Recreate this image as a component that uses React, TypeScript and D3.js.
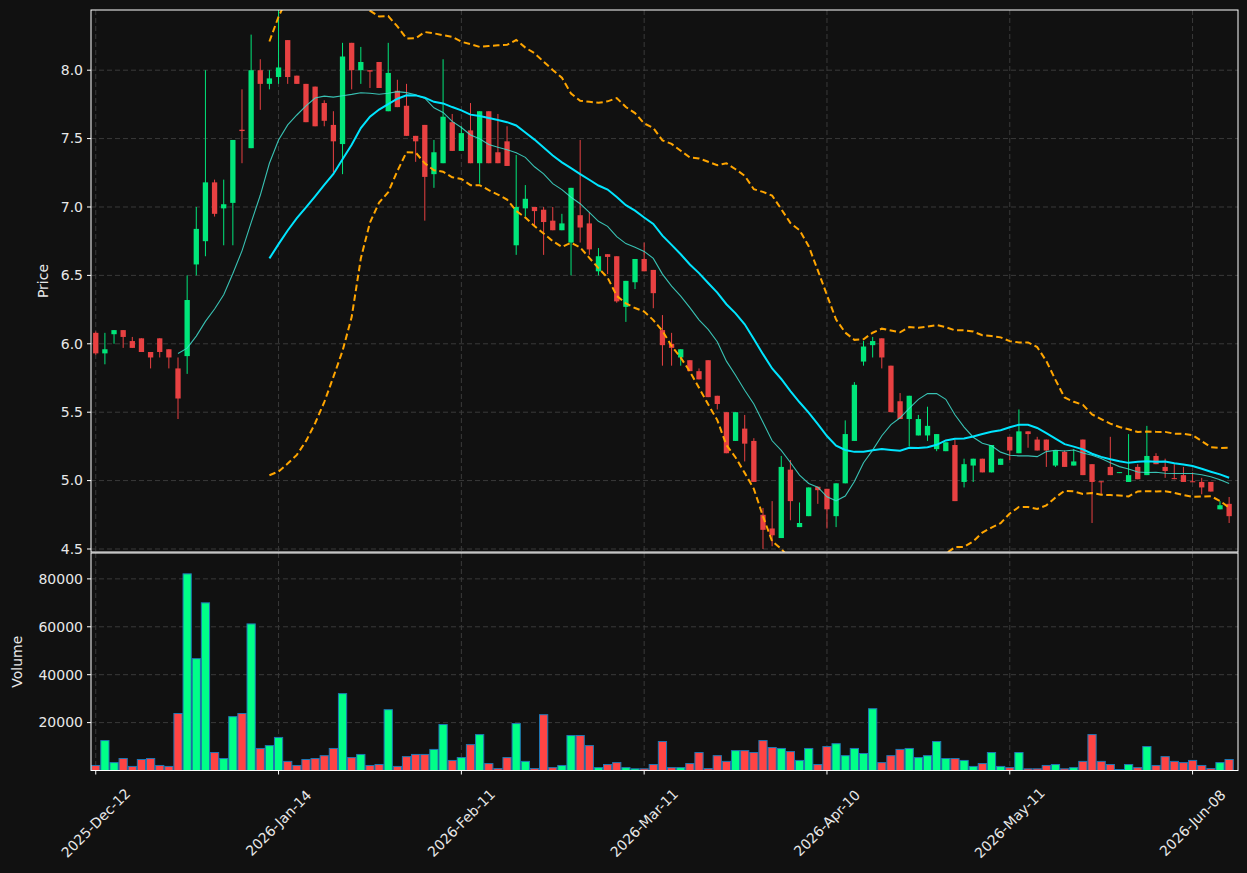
import React from "react";
import * as d3 from "d3";

// candle values, index 0 = 2025-Dec-12
const opens = [
  6.08, 5.93, 6.07, 6.10, 6.02, 6.04, 5.94, 6.04, 5.96, 5.82,
  5.91, 6.58, 6.75, 7.18, 6.99, 7.03, 7.565, 7.43, 8.00, 7.90,
  7.95, 8.22, 7.96, 7.90, 7.88, 7.76, 7.60, 7.46, 8.20, 8.00,
  8.00, 8.06, 7.70, 7.85, 7.74, 7.52, 7.60, 7.24, 7.32, 7.62,
  7.41, 7.56, 7.32, 7.70, 7.40, 7.48, 6.72, 6.99, 7.00, 6.98,
  6.90, 6.83, 6.74, 6.94, 6.88, 6.53, 6.655, 6.64, 6.27, 6.45,
  6.62, 6.54, 6.10, 6.00, 5.90, 5.88, 5.80, 5.88, 5.62, 5.50,
  5.29, 5.38, 5.29, 4.75, 4.65, 4.58, 5.08, 4.66, 4.74, 4.955,
  4.94, 4.74, 4.98, 5.29, 5.87, 5.99, 6.04, 5.84, 5.58, 5.45,
  5.33, 5.33, 5.23, 5.215, 5.26, 4.99, 5.11, 5.16, 5.06, 5.115,
  5.32, 5.20, 5.36, 5.30, 5.30, 5.11, 5.21, 5.11, 5.30, 5.12,
  4.995, 5.10, 5.057, 4.99, 5.10, 5.04, 5.18, 5.10, 5.018, 5.04,
  4.995, 4.99, 4.99, 4.79, 4.83,
];
const highs = [
  6.09, 6.08, 6.10, 6.10, 6.05, 6.04, 5.94, 6.04, 5.96, 5.90,
  6.50, 7.00, 8.00, 7.20, 7.20, 7.49, 7.86, 8.26, 8.08, 8.00,
  8.48, 8.22, 7.96, 7.90, 7.88, 7.78, 7.70, 8.20, 8.20, 8.17,
  8.00, 8.06, 8.20, 7.93, 7.90, 7.52, 7.60, 7.49, 8.08, 7.68,
  7.59, 7.76, 7.70, 7.70, 7.68, 7.59, 7.38, 7.16, 7.00, 7.00,
  7.00, 6.95, 7.14, 7.49, 6.96, 6.70, 6.655, 6.64, 6.46, 6.62,
  6.74, 6.54, 6.21, 6.08, 5.96, 5.88, 5.82, 5.88, 5.62, 5.50,
  5.50, 5.48, 5.31, 4.80, 4.85, 5.18, 5.15, 4.84, 4.95, 4.955,
  4.94, 4.98, 5.44, 5.72, 6.02, 6.05, 6.04, 5.84, 5.64, 5.62,
  5.48, 5.54, 5.34, 5.28, 5.30, 5.16, 5.16, 5.16, 5.26, 5.16,
  5.32, 5.52, 5.36, 5.32, 5.30, 5.22, 5.22, 5.23, 5.30, 5.12,
  4.995, 5.32, 5.062, 5.34, 5.12, 5.40, 5.20, 5.16, 5.12, 5.10,
  5.06, 5.02, 4.99, 4.85, 4.88,
];
const lows = [
  5.92, 5.85, 6.00, 5.97, 5.97, 5.94, 5.82, 5.90, 5.82, 5.45,
  5.78, 6.50, 6.64, 6.93, 6.72, 6.72, 7.32, 7.43, 7.71, 7.86,
  7.90, 7.90, 7.90, 7.62, 7.59, 7.59, 7.25, 7.24, 7.86, 7.90,
  7.87, 7.87, 7.70, 7.73, 7.52, 7.33, 6.90, 7.14, 7.32, 7.41,
  7.41, 7.32, 7.17, 7.32, 7.32, 7.30, 6.65, 6.93, 6.86, 6.65,
  6.83, 6.83, 6.50, 6.74, 6.65, 6.50, 6.51, 6.30, 6.16, 6.40,
  6.53, 6.26, 5.84, 5.84, 5.84, 5.80, 5.74, 5.61, 5.52, 5.20,
  5.29, 5.14, 4.99, 4.50, 4.52, 4.58, 4.71, 4.66, 4.74, 4.83,
  4.65, 4.66, 4.98, 5.29, 5.84, 5.90, 5.82, 5.50, 5.45, 5.25,
  5.33, 5.29, 5.215, 5.215, 4.85, 4.95, 4.99, 5.06, 5.06, 5.115,
  5.15, 5.20, 5.24, 5.22, 5.10, 5.10, 5.10, 5.11, 5.04, 4.69,
  4.90, 5.04, 5.055, 4.99, 5.01, 5.04, 5.12, 5.02, 5.01, 4.99,
  4.99, 4.90, 4.92, 4.79, 4.69,
];
const closes = [
  5.93, 5.96, 6.10, 6.05, 5.97, 5.94, 5.90, 5.94, 5.90, 5.60,
  6.32, 6.84, 7.18, 6.95, 7.02, 7.49, 7.555, 8.00, 7.90, 7.94,
  8.02, 7.95, 7.90, 7.62, 7.59, 7.63, 7.48, 8.10, 8.00, 8.06,
  7.99, 7.87, 7.98, 7.73, 7.52, 7.48, 7.22, 7.40, 7.66, 7.41,
  7.54, 7.32, 7.70, 7.32, 7.32, 7.30, 7.00, 7.06, 6.97, 6.89,
  6.83, 6.88, 7.14, 6.85, 6.69, 6.64, 6.635, 6.31, 6.46, 6.62,
  6.53, 6.37, 5.99, 5.97, 5.96, 5.80, 5.74, 5.61, 5.56, 5.20,
  5.50, 5.27, 4.99, 4.64, 4.60, 5.10, 4.85, 4.69, 4.95, 4.93,
  4.79, 4.98, 5.34, 5.70, 5.98, 6.02, 5.90, 5.50, 5.45, 5.62,
  5.45, 5.40, 5.34, 5.28, 4.85, 5.12, 5.16, 5.06, 5.26, 5.16,
  5.22, 5.36, 5.34, 5.22, 5.22, 5.22, 5.10, 5.14, 5.04, 4.99,
  4.99, 5.04, 5.062, 5.04, 5.01, 5.18, 5.12, 5.07, 5.011, 4.99,
  4.99, 4.95, 4.92, 4.82, 4.74,
];
const volumes = [
  2100, 12500, 3300, 5000, 1700, 4600, 5000, 2100, 1700, 23800,
  82100, 46700, 70000, 7500, 5000, 22500, 23800, 61200, 9200, 10400,
  13800, 3800, 2100, 4600, 5000, 6200, 9200, 32100, 5400, 6700,
  2100, 2500, 25400, 1700, 5800, 6700, 6700, 8800, 19200, 4200,
  5400, 10800, 15000, 2900, 800, 5400, 19600, 3800, 800, 23300,
  1200, 2100, 14600, 14600, 10400, 1200, 2500, 3300, 1200, 700,
  700, 2500, 12100, 1200, 1200, 2900, 7500, 800, 6200, 3800,
  8300, 8300, 7500, 12500, 9600, 9200, 7900, 4200, 9200, 2500,
  10000, 11200, 6200, 9200, 7100, 25800, 3300, 6200, 8800, 9200,
  5400, 6200, 12100, 5000, 5000, 4200, 1700, 2900, 7500, 1700,
  1200, 7500, 700, 700, 2100, 2500, 700, 1200, 3800, 15000,
  3800, 2500, 400, 2500, 1200, 10000, 2100, 5800, 3800, 3300,
  4200, 2100, 800, 3300, 4600,
];

const tickIndex = [0, 20, 40, 60, 80, 100, 120];
const tickLabels = ["2025-Dec-12", "2026-Jan-14", "2026-Feb-11", "2026-Mar-11", "2026-Apr-10", "2026-May-11", "2026-Jun-08"];
const priceTicks = [4.5, 5.0, 5.5, 6.0, 6.5, 7.0, 7.5, 8.0];
const volumeTicks = [20000, 40000, 60000, 80000];

const W = 1247, H = 873;
const left = 91, right = 1238;
const pTop = 10, pBottom = 552;
const vTop = 553, vBottom = 770.5;
const font = "DejaVu Sans, sans-serif";
const fs = 14;
const up = "#00e67a", down = "#e84142";
const vUp = "#00ff88", vDown = "#ff4444";

// rolling window helper, null until window is full
function rolling(vals: number[], n: number, fn: (w: number[]) => number) {
  return vals.map((_, i) => (i < n - 1 ? null : fn(vals.slice(i - n + 1, i + 1))));
}

export default function App() {
  const n = closes.length;
  const x = d3.scaleLinear().domain([-0.52, n - 0.03]).range([left, right]);
  const step = x(1) - x(0);
  const y = d3.scaleLinear().domain([4.478, 8.44]).range([pBottom, pTop]);
  const yv = d3.scaleLinear().domain([0, d3.max(volumes)! * 1.106]).range([vBottom, vTop]);

  const ma10 = rolling(closes, 10, (w) => d3.mean(w)!);
  const ma20 = rolling(closes, 20, (w) => d3.mean(w)!);
  const sd20 = rolling(closes, 20, (w) => {
    const m = d3.mean(w)!;
    return Math.sqrt(d3.mean(w, (v) => (v - m) * (v - m))!);
  });
  const upper = ma20.map((m, i) => (m == null ? null : m + 2 * sd20[i]!));
  const lower = ma20.map((m, i) => (m == null ? null : m - 2 * sd20[i]!));

  const line = d3
    .line<number | null>()
    .defined((d) => d != null)
    .x((_, i) => x(i))
    .y((d) => y(d as number));

  const grid = "#3a3a3a";
  const textCol = "#e8e8e8";

  return (
    <svg width={W} height={H} style={{ display: "block", position: "absolute", left: 0, top: 0, background: "#111111" }}>
      <rect x={0} y={0} width={W} height={H} fill="#111111" />
      <defs>
        <clipPath id="pclip">
          <rect x={left} y={pTop} width={right - left} height={pBottom - pTop} />
        </clipPath>
        <clipPath id="vclip">
          <rect x={left} y={vTop} width={right - left} height={vBottom - vTop} />
        </clipPath>
      </defs>

      {/* grids */}
      {tickIndex.map((t) => (
        <g key={"vg" + t}>
          <line x1={x(t)} x2={x(t)} y1={pTop} y2={pBottom} stroke={grid} strokeDasharray="5,3" />
          <line x1={x(t)} x2={x(t)} y1={vTop} y2={vBottom} stroke={grid} strokeDasharray="5,3" />
        </g>
      ))}
      {priceTicks.map((p) => (
        <line key={"pg" + p} x1={left} x2={right} y1={y(p)} y2={y(p)} stroke={grid} strokeDasharray="5,3" />
      ))}
      {volumeTicks.map((v) => (
        <line key={"vgl" + v} x1={left} x2={right} y1={yv(v)} y2={yv(v)} stroke={grid} strokeDasharray="5,3" />
      ))}

      {/* candles */}
      <g clipPath="url(#pclip)">
        {closes.map((c, i) => {
          const o = opens[i];
          const col = c >= o ? up : down;
          const bw = step * 0.58;
          const top = y(Math.max(o, c));
          const bh = Math.max(1, y(Math.min(o, c)) - top);
          return (
            <g key={"c" + i}>
              <line x1={x(i)} x2={x(i)} y1={y(highs[i])} y2={y(lows[i])} stroke={col} strokeWidth={1} />
              <rect x={x(i) - bw / 2} y={top} width={bw} height={bh} fill={col} />
            </g>
          );
        })}
        <path d={line(ma10) || ""} fill="none" stroke="#40e0d0" strokeOpacity={0.85} strokeWidth={1.1} />
        <path d={line(ma20) || ""} fill="none" stroke="#00e5ff" strokeWidth={2} />
        <path d={line(upper) || ""} fill="none" stroke="#ffa500" strokeWidth={2} strokeDasharray="6.5,3.5" />
        <path d={line(lower) || ""} fill="none" stroke="#ffa500" strokeWidth={2} strokeDasharray="6.5,3.5" />
      </g>

      {/* volume */}
      <g clipPath="url(#vclip)">
        {volumes.map((v, i) => {
          const bw = step * 0.9;
          return (
            <rect
              key={"v" + i}
              x={x(i) - bw / 2}
              y={yv(v)}
              width={bw}
              height={yv(0) - yv(v)}
              fill={closes[i] >= opens[i] ? vUp : vDown}
              stroke="#1f77b4"
              strokeWidth={1}
            />
          );
        })}
      </g>

      {/* spines */}
      <rect x={left} y={pTop} width={right - left} height={pBottom - pTop} fill="none" stroke="#ffffff" strokeWidth={1} />
      <rect x={left} y={vTop} width={right - left} height={vBottom - vTop} fill="none" stroke="#ffffff" strokeWidth={1} />

      {/* y axes */}
      {priceTicks.map((p) => (
        <g key={"pt" + p}>
          <line x1={left - 4} x2={left} y1={y(p)} y2={y(p)} stroke="#ffffff" />
          <text x={left - 8} y={y(p)} dy="0.35em" textAnchor="end" fill={textCol} fontSize={fs} fontFamily={font}>
            {p.toFixed(1)}
          </text>
        </g>
      ))}
      {volumeTicks.map((v) => (
        <g key={"vt" + v}>
          <line x1={left - 4} x2={left} y1={yv(v)} y2={yv(v)} stroke="#ffffff" />
          <text x={left - 8} y={yv(v)} dy="0.35em" textAnchor="end" fill={textCol} fontSize={fs} fontFamily={font}>
            {v}
          </text>
        </g>
      ))}
      <text transform={`translate(43,${(pTop + pBottom) / 2}) rotate(-90)`} textAnchor="middle" dy="0.35em" fill={textCol} fontSize={fs} fontFamily={font}>
        Price
      </text>
      <text transform={`translate(17,${(vTop + vBottom) / 2}) rotate(-90)`} textAnchor="middle" dy="0.35em" fill={textCol} fontSize={fs} fontFamily={font}>
        Volume
      </text>

      {/* x axis */}
      {tickIndex.map((t, k) => (
        <g key={"xt" + t}>
          <line x1={x(t)} x2={x(t)} y1={vBottom} y2={vBottom + 4} stroke="#ffffff" />
          <text
            transform={`translate(${x(t)},823) rotate(-45)`}
            textAnchor="middle"
            dy="0.35em"
            fill={textCol}
            fontSize={fs}
            fontFamily={font}
          >
            {tickLabels[k]}
          </text>
        </g>
      ))}
    </svg>
  );
}
